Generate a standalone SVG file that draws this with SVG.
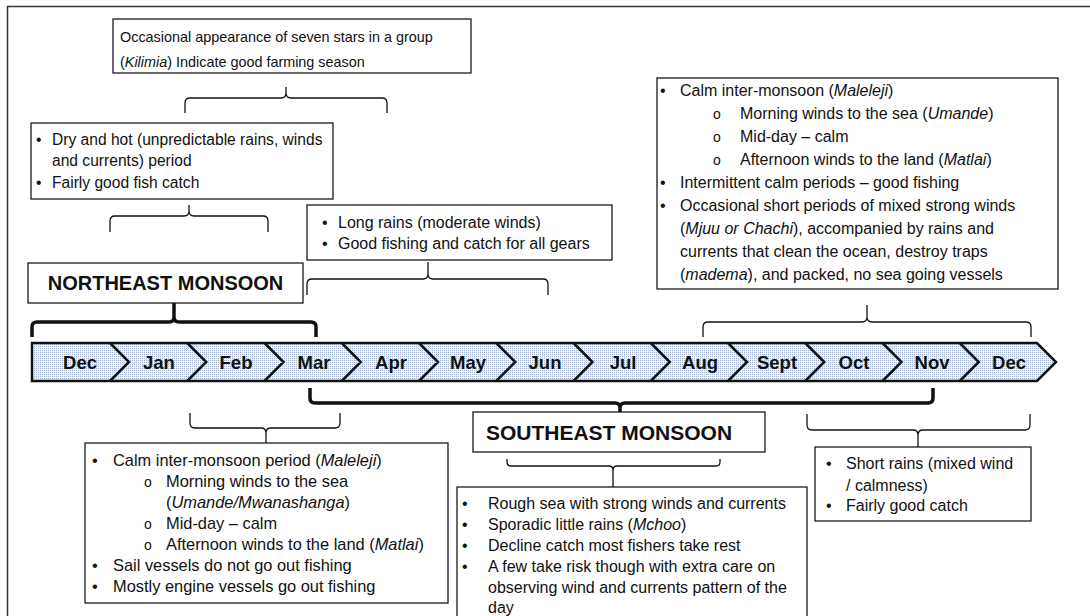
<svg xmlns="http://www.w3.org/2000/svg" width="1090" height="616" viewBox="0 0 1090 616">
<style>
.box{fill:#fff;stroke:#1a1a1a;stroke-width:1.3}
.t{font-family:'Liberation Sans',Arial,sans-serif;font-size:16px;fill:#111}
.h{font-family:'Liberation Sans',Arial,sans-serif;font-size:20px;font-weight:bold;fill:#111;text-anchor:middle}
.m{font-family:'Liberation Sans',Arial,sans-serif;font-size:18.5px;font-weight:bold;fill:#111;text-anchor:middle}
.brace{fill:none;stroke:#111;stroke-width:1.3}
.bold{fill:none;stroke:#111;stroke-width:3.5}
.it{font-style:italic}
.sb{font-size:14px}
.f144{font-size:14.4px}
.f156{font-size:15.6px}
.f164{font-size:16.4px}
.h21{font-size:21px}
</style>
<defs>
<pattern id="dots" width="2" height="2" patternUnits="userSpaceOnUse">
<rect width="2" height="2" fill="#eef1f6"/>
<rect width="1" height="1" fill="#a7b6cc"/>
</pattern>
</defs>
<g id="frame"><path d="M7.5,616 V6.5 H1090" fill="none" stroke="#333" stroke-width="1.5"/></g>

<g id="timeline">
<path d="M32,343 H1037 L1056,362 L1037,381 H32 Z" fill="url(#dots)" stroke="#111" stroke-width="2.5"/>
<path d="M110,343 L129,362 L110,381 M187.25,343 L206.25,362 L187.25,381 M264.5,343 L283.5,362 L264.5,381 M341.75,343 L360.75,362 L341.75,381 M419,343 L438,362 L419,381 M496.25,343 L515.25,362 L496.25,381 M573.5,343 L592.5,362 L573.5,381 M650.75,343 L669.75,362 L650.75,381 M728,343 L747,362 L728,381 M805.25,343 L824.25,362 L805.25,381 M882.5,343 L901.5,362 L882.5,381 M959.75,343 L978.75,362 L959.75,381" fill="none" stroke="#111" stroke-width="2.5"/>
<text class="m" x="80" y="368.5">Dec</text>
<text class="m" x="159" y="368.5">Jan</text>
<text class="m" x="236" y="368.5">Feb</text>
<text class="m" x="314" y="368.5">Mar</text>
<text class="m" x="391" y="368.5">Apr</text>
<text class="m" x="468" y="368.5">May</text>
<text class="m" x="545" y="368.5">Jun</text>
<text class="m" x="623" y="368.5">Jul</text>
<text class="m" x="700" y="368.5">Aug</text>
<text class="m" x="777" y="368.5">Sept</text>
<text class="m" x="854" y="368.5">Oct</text>
<text class="m" x="932" y="368.5">Nov</text>
<text class="m" x="1009" y="368.5">Dec</text>
</g>

<g id="connectors">
<path class="brace" d="M185,113 V103 Q185,98 190,98 H281 Q286,98 286,93 V87 M286,93 Q286,98 291,98 H382 Q387,98 387,103 V113"/>
<path class="brace" d="M110,232 V221 Q110,216 115,216 H184 Q189,216 189,211 V205 M189,211 Q189,216 194,216 H263 Q268,216 268,221 V232"/>
<path class="brace" d="M307,295 V284 Q307,279 312,279 H423 Q428,279 428,274 V262 M428,274 Q428,279 433,279 H543 Q548,279 548,284 V295"/>
<path class="brace" d="M703,337 V327 Q703,322 708,322 H862 Q867,322 867,317 V305 M867,317 Q867,322 872,322 H1026 Q1031,322 1031,327 V337"/>
<path class="bold" d="M32,337 V327 Q32,322 37,322 H169 Q174,322 174,317 V303 M174,317 Q174,322 179,322 H311 Q316,322 316,327 V337"/>
<path class="bold" d="M310,388 V398 Q310,403 315,403 H615 Q620,403 620,408 V412 M620,408 Q620,403 625,403 H928 Q933,403 933,398 V388"/>
<path class="brace" d="M190,413 V423 Q190,428 195,428 H261 Q266,428 266,433 V443 M266,433 Q266,428 271,428 H335 Q340,428 340,423 V413"/>
<path class="brace" d="M507,459 V462 Q507,466 511,466 H609 Q613,466 613,470 V487 M613,470 Q613,466 617,466 H716 Q720,466 720,462 V459"/>
<path class="brace" d="M807,414 V425 Q807,430 812,430 H913 Q918,430 918,435 V447 M918,435 Q918,430 923,430 H1025 Q1030,430 1030,425 V414"/>
</g>

<g id="kilimia">
<rect class="box" x="113" y="19" width="358" height="54"/>
<text class="t f144" x="120" y="41.5">Occasional appearance of seven stars in a group</text>
<text class="t f144" x="120" y="66.5">(<tspan class="it">Kilimia</tspan>) Indicate good farming season</text>
</g>

<g id="dry-hot">
<rect class="box" x="31" y="123" width="302" height="76"/>
<text class="t f156" x="36" y="144.5">•</text>
<text class="t f156" x="52" y="144.5">Dry and hot (unpredictable rains, winds</text>
<text class="t f156" x="52" y="165.5">and currents) period</text>
<text class="t f156" x="36" y="187.5">•</text>
<text class="t f156" x="52" y="187.5">Fairly good fish catch</text>
</g>

<g id="long-rains">
<rect class="box" x="307" y="205" width="305" height="55"/>
<text class="t" x="322" y="228">•</text>
<text class="t" x="338" y="228">Long rains (moderate winds)</text>
<text class="t" x="322" y="249">•</text>
<text class="t" x="338" y="249">Good fishing and catch for all gears</text>
</g>

<g id="northeast">
<rect class="box" x="28" y="263" width="275" height="40"/>
<text class="h" x="165.5" y="290">NORTHEAST MONSOON</text>
</g>

<g id="calm-second">
<rect class="box" x="657" y="78" width="401" height="211"/>
<text class="t" x="660" y="95.5">•</text>
<text class="t" x="680" y="95.5">Calm inter-monsoon (<tspan class="it">Maleleji</tspan>)</text>
<text class="t sb" x="713" y="118.5">o</text>
<text class="t" x="740" y="118.5">Morning  winds to the sea (<tspan class="it">Umande</tspan>)</text>
<text class="t sb" x="713" y="141.5">o</text>
<text class="t" x="740" y="141.5">Mid-day – calm</text>
<text class="t sb" x="713" y="164.5">o</text>
<text class="t" x="740" y="164.5">Afternoon winds to the land (<tspan class="it">Matlai</tspan>)</text>
<text class="t" x="660" y="187.5">•</text>
<text class="t" x="680" y="187.5">Intermittent calm periods – good fishing</text>
<text class="t" x="660" y="210.5">•</text>
<text class="t" x="680" y="210.5">Occasional short periods of mixed strong winds</text>
<text class="t" x="680" y="233.5">(<tspan class="it">Mjuu or Chachi</tspan>), accompanied by rains and</text>
<text class="t" x="680" y="256.5">currents that clean the ocean, destroy traps</text>
<text class="t" x="680" y="279.5">(<tspan class="it">madema</tspan>), and packed, no sea going vessels</text>
</g>

<g id="calm-first">
<rect class="box" x="85" y="443" width="363" height="160"/>
<text class="t f164" x="92" y="465.5">•</text>
<text class="t f164" x="113" y="465.5">Calm inter-monsoon  period (<tspan class="it">Maleleji</tspan>)</text>
<text class="t sb" x="144" y="486.5">o</text>
<text class="t f164" x="166" y="486.5">Morning  winds to the sea</text>
<text class="t f164" x="166" y="507.5">(<tspan class="it">Umande/Mwanashanga</tspan>)</text>
<text class="t sb" x="144" y="528.5">o</text>
<text class="t f164" x="166" y="528.5">Mid-day – calm</text>
<text class="t sb" x="144" y="549.5">o</text>
<text class="t f164" x="166" y="549.5">Afternoon winds to the land (<tspan class="it">Matlai</tspan>)</text>
<text class="t f164" x="92" y="571">•</text>
<text class="t f164" x="113" y="571">Sail vessels do not go out fishing</text>
<text class="t f164" x="92" y="591.5">•</text>
<text class="t f164" x="113" y="591.5">Mostly engine vessels go out fishing</text>
</g>

<g id="southeast">
<rect class="box" x="473" y="412" width="292" height="40"/>
<text class="h h21" x="609" y="439.5">SOUTHEAST MONSOON</text>
</g>

<g id="rough-sea">
<rect class="box" x="457" y="487" width="350" height="140"/>
<text class="t" x="462" y="508.5">•</text>
<text class="t" x="488" y="508.5">Rough sea with strong winds and currents</text>
<text class="t" x="462" y="529.5">•</text>
<text class="t" x="488" y="529.5">Sporadic little rains (<tspan class="it">Mchoo</tspan>)</text>
<text class="t" x="462" y="550.5">•</text>
<text class="t" x="488" y="550.5">Decline catch most fishers take rest</text>
<text class="t" x="462" y="571.5">•</text>
<text class="t" x="488" y="571.5">A few take risk though with extra care on</text>
<text class="t" x="488" y="592.5">observing wind and currents pattern of the</text>
<text class="t" x="488" y="613">day</text>
</g>

<g id="short-rains">
<rect class="box" x="815" y="447" width="216" height="74"/>
<text class="t" x="826" y="468.5">•</text>
<text class="t" x="846" y="468.5">Short rains (mixed wind</text>
<text class="t" x="846" y="490.5">/ calmness)</text>
<text class="t" x="826" y="510.5">•</text>
<text class="t" x="846" y="510.5">Fairly good catch</text>
</g>
</svg>
